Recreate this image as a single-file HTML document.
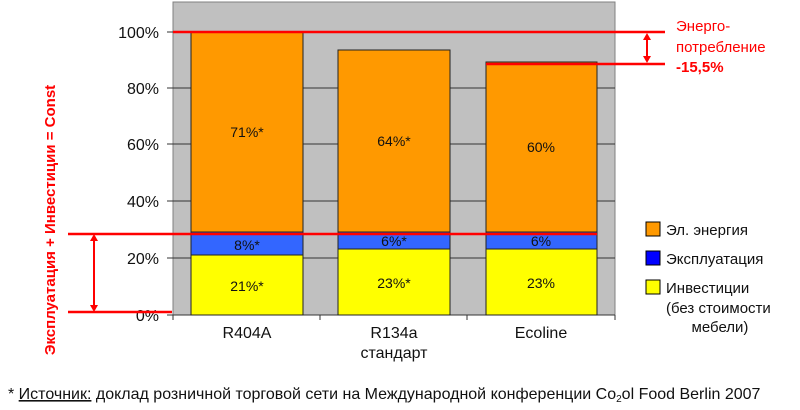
<!DOCTYPE html>
<html><head><meta charset="utf-8"><style>
body{margin:0;background:#fff;}
svg text{font-family:"Liberation Sans",sans-serif;}
</style></head><body>
<svg width="800" height="405" xmlns="http://www.w3.org/2000/svg">
<rect x="173" y="2" width="442" height="313" fill="#c0c0c0" stroke="#808080" stroke-width="1"/>
<g stroke="#333" stroke-width="1">
<line x1="167" y1="88" x2="615" y2="88"/><line x1="167" y1="144" x2="615" y2="144"/>
<line x1="167" y1="201" x2="615" y2="201"/><line x1="167" y1="258" x2="615" y2="258"/>
<line x1="167" y1="32" x2="173" y2="32"/><line x1="167" y1="315" x2="173" y2="315"/>
<line x1="173" y1="315" x2="615" y2="315"/>
<line x1="173" y1="315" x2="173" y2="320"/><line x1="320" y1="315" x2="320" y2="320"/>
<line x1="467" y1="315" x2="467" y2="320"/><line x1="615" y1="315" x2="615" y2="320"/>
</g>
<g stroke="#222" stroke-width="1">
<rect x="191" y="32" width="112" height="200" fill="#ff9900"/>
<rect x="191" y="232" width="112" height="23" fill="#3366ff"/>
<rect x="191" y="255" width="112" height="60" fill="#ffff00"/>
<rect x="338" y="50" width="112" height="182" fill="#ff9900"/>
<rect x="338" y="232" width="112" height="17" fill="#3366ff"/>
<rect x="338" y="249" width="112" height="66" fill="#ffff00"/>
<rect x="486" y="62" width="111" height="170" fill="#ff9900"/>
<rect x="486" y="232" width="111" height="17" fill="#3366ff"/>
<rect x="486" y="249" width="111" height="66" fill="#ffff00"/>
</g>
<g font-size="14" fill="#111" text-anchor="middle">
<text x="247" y="137">71%*</text><text x="394" y="146">64%*</text><text x="541" y="152">60%</text>
<text x="247" y="250">8%*</text><text x="394" y="246">6%*</text><text x="541" y="246">6%</text>
<text x="247" y="291">21%*</text><text x="394" y="288">23%*</text><text x="541" y="288">23%</text>
</g>
<g font-size="16" fill="#111" text-anchor="end">
<text x="159" y="38">100%</text><text x="159" y="94">80%</text><text x="159" y="150">60%</text>
<text x="159" y="207">40%</text><text x="159" y="264">20%</text><text x="159" y="321">0%</text>
</g>
<g font-size="16" fill="#111" text-anchor="middle">
<text x="247" y="338">R404A</text><text x="394" y="338">R134a</text><text x="394" y="358">стандарт</text><text x="541" y="338">Ecoline</text>
</g>
<g stroke="#ff0000" stroke-width="2.5" fill="none">
<line x1="173" y1="32" x2="665" y2="32"/>
<line x1="486" y1="64" x2="665" y2="64"/>
<line x1="68" y1="234" x2="597" y2="234"/>
<line x1="68" y1="312" x2="172" y2="312"/>
<line x1="94" y1="238" x2="94" y2="308" stroke-width="2"/>
<line x1="647" y1="36" x2="647" y2="60" stroke-width="2"/>
</g>
<g fill="#ff0000">
<polygon points="94,234 90,241 98,241"/><polygon points="94,312 90,305 98,305"/>
<polygon points="647,33 643,40 651,40"/><polygon points="647,63 643,56 651,56"/>
</g>
<g font-size="15" fill="#ff0000">
<text x="676" y="31">Энерго-</text><text x="676" y="52">потребление</text>
<text x="676" y="72" font-weight="bold">-15,5%</text>
<text transform="translate(55,220) rotate(-90)" text-anchor="middle" font-weight="bold" font-size="15">Эксплуатация + Инвестиции = Const</text>
</g>
<g stroke="#000" stroke-width="1">
<rect x="646" y="222" width="14" height="14" fill="#ff9900"/>
<rect x="646" y="251" width="14" height="14" fill="#0000ff"/>
<rect x="646" y="280" width="14" height="14" fill="#ffff00"/>
</g>
<g font-size="15" fill="#111">
<text x="666" y="235">Эл. энергия</text><text x="666" y="264">Эксплуатация</text>
<text x="666" y="293">Инвестиции</text><text x="666" y="313">(без стоимости</text><text x="720" y="332" text-anchor="middle">мебели)</text>
</g>
<text x="8" y="399" font-size="16" fill="#111">* <tspan text-decoration="underline">Источник:</tspan> доклад розничной торговой сети на Международной конференции Co<tspan font-size="10" dy="3">2</tspan><tspan dy="-3">ol Food Berlin 2007</tspan></text>
</svg>
</body></html>
